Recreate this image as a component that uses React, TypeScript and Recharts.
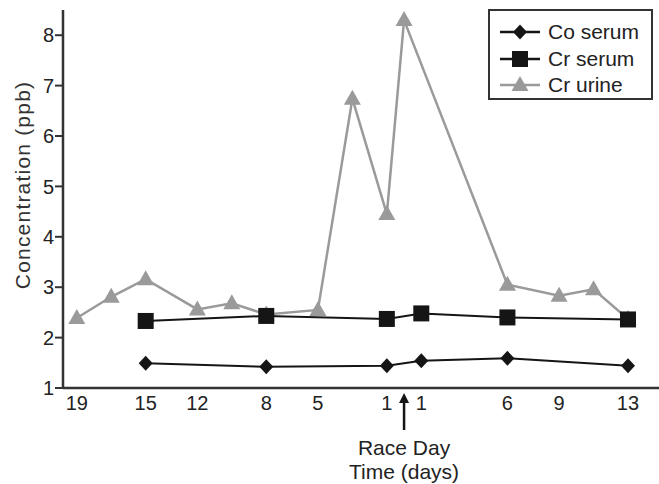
import React from 'react';
import { LineChart, Line, XAxis, YAxis, Legend } from 'recharts';

// days relative to race day (negative = before)
const days = [-19, -17, -15, -12, -10, -8, -5, -3, -1, 0, 1, 6, 9, 11, 13];
const coSerum = [null, null, 1.49, null, null, 1.42, null, null, 1.44, null, 1.54, 1.59, null, null, 1.44];
const crSerum = [null, null, 2.33, null, null, 2.43, null, null, 2.37, null, 2.48, 2.4, null, null, 2.36];
const crUrine = [2.39, 2.81, 3.16, 2.56, 2.68, 2.46, 2.55, 6.74, 4.45, 8.3, null, 3.05, 2.83, 2.96, 2.37];

const xTicks = [-19, -15, -12, -8, -5, -1, 0, 1, 6, 9, 13];
const yTicks = [1, 2, 3, 4, 5, 6, 7, 8];

const FONT = '"Liberation Sans", Arial, sans-serif';
const BLACK = '#151515';
const GRAY = '#9a9a9a';

const series = [
  { key: 'co', name: 'Co serum', color: BLACK, shape: 'diamond' },
  { key: 'crs', name: 'Cr serum', color: BLACK, shape: 'square' },
  { key: 'cru', name: 'Cr urine', color: GRAY, shape: 'triangle' }
];

const data = days.map((d, i) => ({
  day: d,
  co: coSerum[i],
  crs: crSerum[i],
  cru: crUrine[i]
}));

function Marker({ shape, cx, cy, color }: { shape: string; cx: number; cy: number; color: string }) {
  if (shape === 'diamond') {
    return <polygon points={`${cx},${cy - 7.5} ${cx + 7},${cy} ${cx},${cy + 7.5} ${cx - 7},${cy}`} fill={color} />;
  }
  if (shape === 'square') {
    return <rect x={cx - 8} y={cy - 8} width={16} height={16} fill={color} />;
  }
  return <polygon points={`${cx},${cy - 9} ${cx + 8.5},${cy + 6} ${cx - 8.5},${cy + 6}`} fill={color} />;
}

const makeDot = (shape: string, color: string) => (props: any) => {
  const { cx, cy, index } = props;
  if (cx == null || cy == null || props.value == null) return <g key={index} />;
  return <Marker key={index} shape={shape} cx={cx} cy={cy} color={color} />;
};

const XTick = (props: any) => {
  const { x, y, payload } = props;
  if (payload.value === 0) {
    return (
      <g>
        <line x1={x} x2={x} y1={y + 2} y2={y + 34} stroke={BLACK} strokeWidth={2.5} />
        <polygon points={`${x},${y - 3} ${x + 5},${y + 7} ${x - 5},${y + 7}`} fill={BLACK} />
        <text x={x} y={y + 59} textAnchor="middle" fontSize={21} fontFamily={FONT} fill="#222">
          Race Day
        </text>
        <text x={x} y={y + 83} textAnchor="middle" fontSize={21} fontFamily={FONT} fill="#222">
          Time (days)
        </text>
      </g>
    );
  }
  return (
    <text x={x} y={y + 14} textAnchor="middle" fontSize={20} fontFamily={FONT} fill="#222">
      {Math.abs(payload.value)}
    </text>
  );
};

const LegendBox = () => (
  <div
    style={{
      border: '2px solid #333',
      background: '#fff',
      padding: '8px 8px 0 10px',
      width: 165,
      height: 91,
      boxSizing: 'border-box',
      fontFamily: FONT,
      fontSize: 21,
      color: '#222'
    }}
  >
    {series.map((s) => (
      <div key={s.key} style={{ display: 'flex', alignItems: 'center', height: 26.5 }}>
        <svg width={40} height={20} style={{ marginRight: 8 }}>
          <line x1={0} x2={40} y1={10} y2={10} stroke={s.color} strokeWidth={2.5} />
          <Marker shape={s.shape} cx={20} cy={10} color={s.color} />
        </svg>
        <span>{s.name}</span>
      </div>
    ))}
  </div>
);

export default function App() {
  return (
    <div style={{ position: 'absolute', left: 0, top: 0, background: '#fff' }}>
      <LineChart width={659} height={484} data={data} margin={{ top: 10, right: 0, bottom: 0, left: 0 }}>
        <XAxis
          dataKey="day"
          type="number"
          domain={[-19.8, 14.8]}
          ticks={xTicks}
          interval={0}
          tickLine={false}
          tick={<XTick />}
          axisLine={{ stroke: '#333', strokeWidth: 2.5 }}
          height={96}
          allowDataOverflow
        />
        <YAxis
          type="number"
          domain={[1, 8.5]}
          ticks={yTicks}
          interval={0}
          width={63}
          tickSize={8}
          tickMargin={1}
          tickLine={{ stroke: '#333', strokeWidth: 2 }}
          axisLine={{ stroke: '#333', strokeWidth: 2.5 }}
          tick={{ fill: '#222', fontSize: 20, fontFamily: FONT }}
          allowDataOverflow
          label={{
            content: () => (
              <text
                x={30}
                y={185}
                transform="rotate(-90 30 185)"
                textAnchor="middle"
                fontSize={21}
                letterSpacing={1.2}
                fontFamily={FONT}
                fill="#333"
              >
                Concentration (ppb)
              </text>
            )
          }}
        />
        <Legend
          layout="horizontal"
          verticalAlign="middle"
          align="center"
          content={<LegendBox />}
          wrapperStyle={{ top: 9, left: 488, width: 165 }}
        />
        <Line
          dataKey="cru"
          name="Cr urine"
          stroke={GRAY}
          strokeWidth={2.5}
          connectNulls
          dot={makeDot('triangle', GRAY)}
          activeDot={false}
          isAnimationActive={false}
        />
        <Line
          dataKey="crs"
          name="Cr serum"
          stroke={BLACK}
          strokeWidth={2}
          connectNulls
          dot={makeDot('square', BLACK)}
          activeDot={false}
          isAnimationActive={false}
        />
        <Line
          dataKey="co"
          name="Co serum"
          stroke={BLACK}
          strokeWidth={2}
          connectNulls
          dot={makeDot('diamond', BLACK)}
          activeDot={false}
          isAnimationActive={false}
        />
      </LineChart>
    </div>
  );
}
